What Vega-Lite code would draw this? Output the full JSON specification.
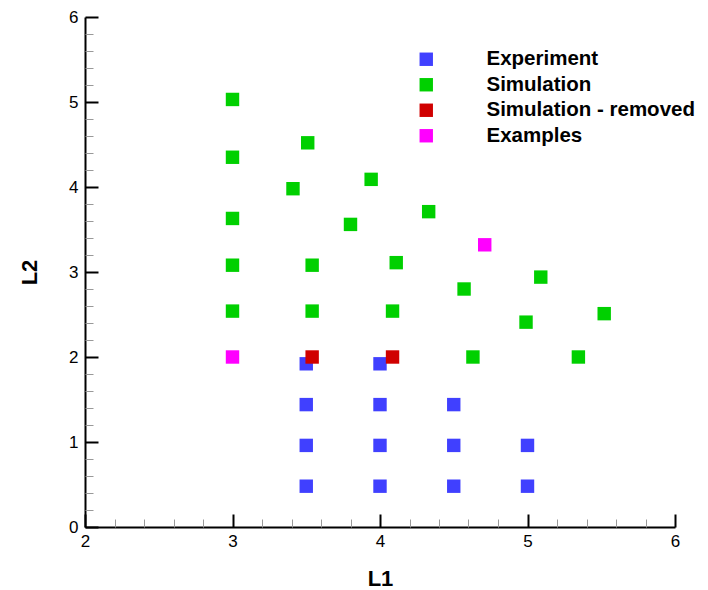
{
  "$schema": "https://vega.github.io/schema/vega-lite/v6.json",
  "autosize": {"type": "none"},
  "padding": {"left": 85, "top": 17, "right": 33, "bottom": 63},
  "width": 590,
  "height": 510,
  "background": "white",
  "config": {
    "view": {"stroke": null},
    "font": "Liberation Sans",
    "axis": {"grid": false}
  },
  "data": {
    "values": [
      {"L1": 3.5, "L2": 1.92, "type": "Experiment"},
      {"L1": 3.5, "L2": 1.44, "type": "Experiment"},
      {"L1": 3.5, "L2": 0.96, "type": "Experiment"},
      {"L1": 3.5, "L2": 0.48, "type": "Experiment"},
      {"L1": 4.0, "L2": 1.92, "type": "Experiment"},
      {"L1": 4.0, "L2": 1.44, "type": "Experiment"},
      {"L1": 4.0, "L2": 0.96, "type": "Experiment"},
      {"L1": 4.0, "L2": 0.48, "type": "Experiment"},
      {"L1": 4.5, "L2": 1.44, "type": "Experiment"},
      {"L1": 4.5, "L2": 0.96, "type": "Experiment"},
      {"L1": 4.5, "L2": 0.48, "type": "Experiment"},
      {"L1": 5.0, "L2": 0.96, "type": "Experiment"},
      {"L1": 5.0, "L2": 0.48, "type": "Experiment"},
      {"L1": 3.0, "L2": 5.03, "type": "Simulation"},
      {"L1": 3.0, "L2": 4.35, "type": "Simulation"},
      {"L1": 3.0, "L2": 3.63, "type": "Simulation"},
      {"L1": 3.0, "L2": 3.08, "type": "Simulation"},
      {"L1": 3.0, "L2": 2.54, "type": "Simulation"},
      {"L1": 3.51, "L2": 4.52, "type": "Simulation"},
      {"L1": 3.41, "L2": 3.98, "type": "Simulation"},
      {"L1": 3.80, "L2": 3.56, "type": "Simulation"},
      {"L1": 3.54, "L2": 3.08, "type": "Simulation"},
      {"L1": 3.54, "L2": 2.54, "type": "Simulation"},
      {"L1": 3.94, "L2": 4.09, "type": "Simulation"},
      {"L1": 4.33, "L2": 3.71, "type": "Simulation"},
      {"L1": 4.11, "L2": 3.11, "type": "Simulation"},
      {"L1": 4.085, "L2": 2.54, "type": "Simulation"},
      {"L1": 4.57, "L2": 2.80, "type": "Simulation"},
      {"L1": 5.09, "L2": 2.94, "type": "Simulation"},
      {"L1": 4.99, "L2": 2.41, "type": "Simulation"},
      {"L1": 5.52, "L2": 2.51, "type": "Simulation"},
      {"L1": 4.63, "L2": 2.0, "type": "Simulation"},
      {"L1": 5.345, "L2": 2.0, "type": "Simulation"},
      {"L1": 3.54, "L2": 2.0, "type": "Simulation - removed"},
      {"L1": 4.085, "L2": 2.0, "type": "Simulation - removed"},
      {"L1": 3.0, "L2": 2.0, "type": "Examples"},
      {"L1": 4.71, "L2": 3.32, "type": "Examples"}
    ]
  },
  "layer": [
    {
      "mark": {"type": "point", "shape": "square", "filled": true, "size": 180, "opacity": 1},
      "encoding": {
        "x": {
          "field": "L1", "type": "quantitative",
          "scale": {"domain": [2, 6], "nice": false, "zero": false},
          "axis": {
            "orient": "bottom", "title": "L1", "values": [2, 3, 4, 5, 6],
            "ticks": false, "domainColor": "black", "domainWidth": 2,
            "labelFontSize": 17, "labelColor": "black", "labelPadding": 6,
            "labelFlush": false,
            "titleFontSize": 22, "titleFontWeight": "bold", "titleColor": "black",
            "titleBaseline": "middle", "titleY": 51, "titleX": 295, "titleAnchor": "middle"
          }
        },
        "y": {
          "field": "L2", "type": "quantitative",
          "scale": {"domain": [0, 6], "nice": false, "zero": false},
          "axis": {
            "orient": "left", "title": "L2", "values": [0, 1, 2, 3, 4, 5, 6],
            "ticks": false, "domainColor": "black", "domainWidth": 2,
            "labelFontSize": 17, "labelColor": "black", "labelPadding": 7,
            "labelFlush": false,
            "titleFontSize": 22, "titleFontWeight": "bold", "titleColor": "black",
            "titleBaseline": "middle", "titleAngle": -90, "titleX": -56, "titleY": 255, "titleAnchor": "middle"
          }
        },
        "color": {
          "field": "type", "type": "nominal",
          "scale": {
            "domain": ["Experiment", "Simulation", "Simulation - removed", "Examples"],
            "range": ["#4040FF", "#00D000", "#D00000", "#FF00FF"]
          },
          "legend": {
            "title": null, "orient": "none", "legendX": 331, "legendY": 32,
            "symbolType": "square", "symbolSize": 180, "symbolOpacity": 1, "symbolStrokeWidth": 0,
            "labelFontSize": 20.5, "labelFontWeight": "bold", "labelColor": "black", "labelLimit": 0,
            "labelOffset": 50, "rowPadding": 4.5, "padding": 0
          }
        }
      }
    },
    {
      "mark": {"type": "point", "opacity": 0},
      "encoding": {
        "x": {
          "field": "L1", "type": "quantitative",
          "axis": {"orient": "bottom", "title": null, "labels": false, "domain": false,
                   "values": [2, 3, 4, 5, 6], "tickSize": -13, "tickWidth": 2, "tickColor": "black"}
        },
        "y": {
          "field": "L2", "type": "quantitative",
          "axis": {"orient": "left", "title": null, "labels": false, "domain": false,
                   "values": [0, 1, 2, 3, 4, 5, 6], "tickSize": -13, "tickWidth": 2, "tickColor": "black"}
        }
      }
    },
    {
      "mark": {"type": "point", "opacity": 0},
      "encoding": {
        "x": {
          "field": "L1", "type": "quantitative",
          "axis": {"orient": "bottom", "title": null, "labels": false, "domain": false,
                   "values": [2.2, 2.4, 2.6, 2.8, 3.2, 3.4, 3.6, 3.8, 4.2, 4.4, 4.6, 4.8, 5.2, 5.4, 5.6, 5.8],
                   "tickSize": -8, "tickWidth": 1, "tickColor": "#999999"}
        },
        "y": {
          "field": "L2", "type": "quantitative",
          "axis": {"orient": "left", "title": null, "labels": false, "domain": false,
                   "values": [0.2, 0.4, 0.6, 0.8, 1.2, 1.4, 1.6, 1.8, 2.2, 2.4, 2.6, 2.8, 3.2, 3.4, 3.6, 3.8, 4.2, 4.4, 4.6, 4.8, 5.2, 5.4, 5.6, 5.8],
                   "tickSize": -8, "tickWidth": 1, "tickColor": "#999999"}
        }
      }
    }
  ],
  "resolve": {"axis": {"x": "independent", "y": "independent"}}
}
